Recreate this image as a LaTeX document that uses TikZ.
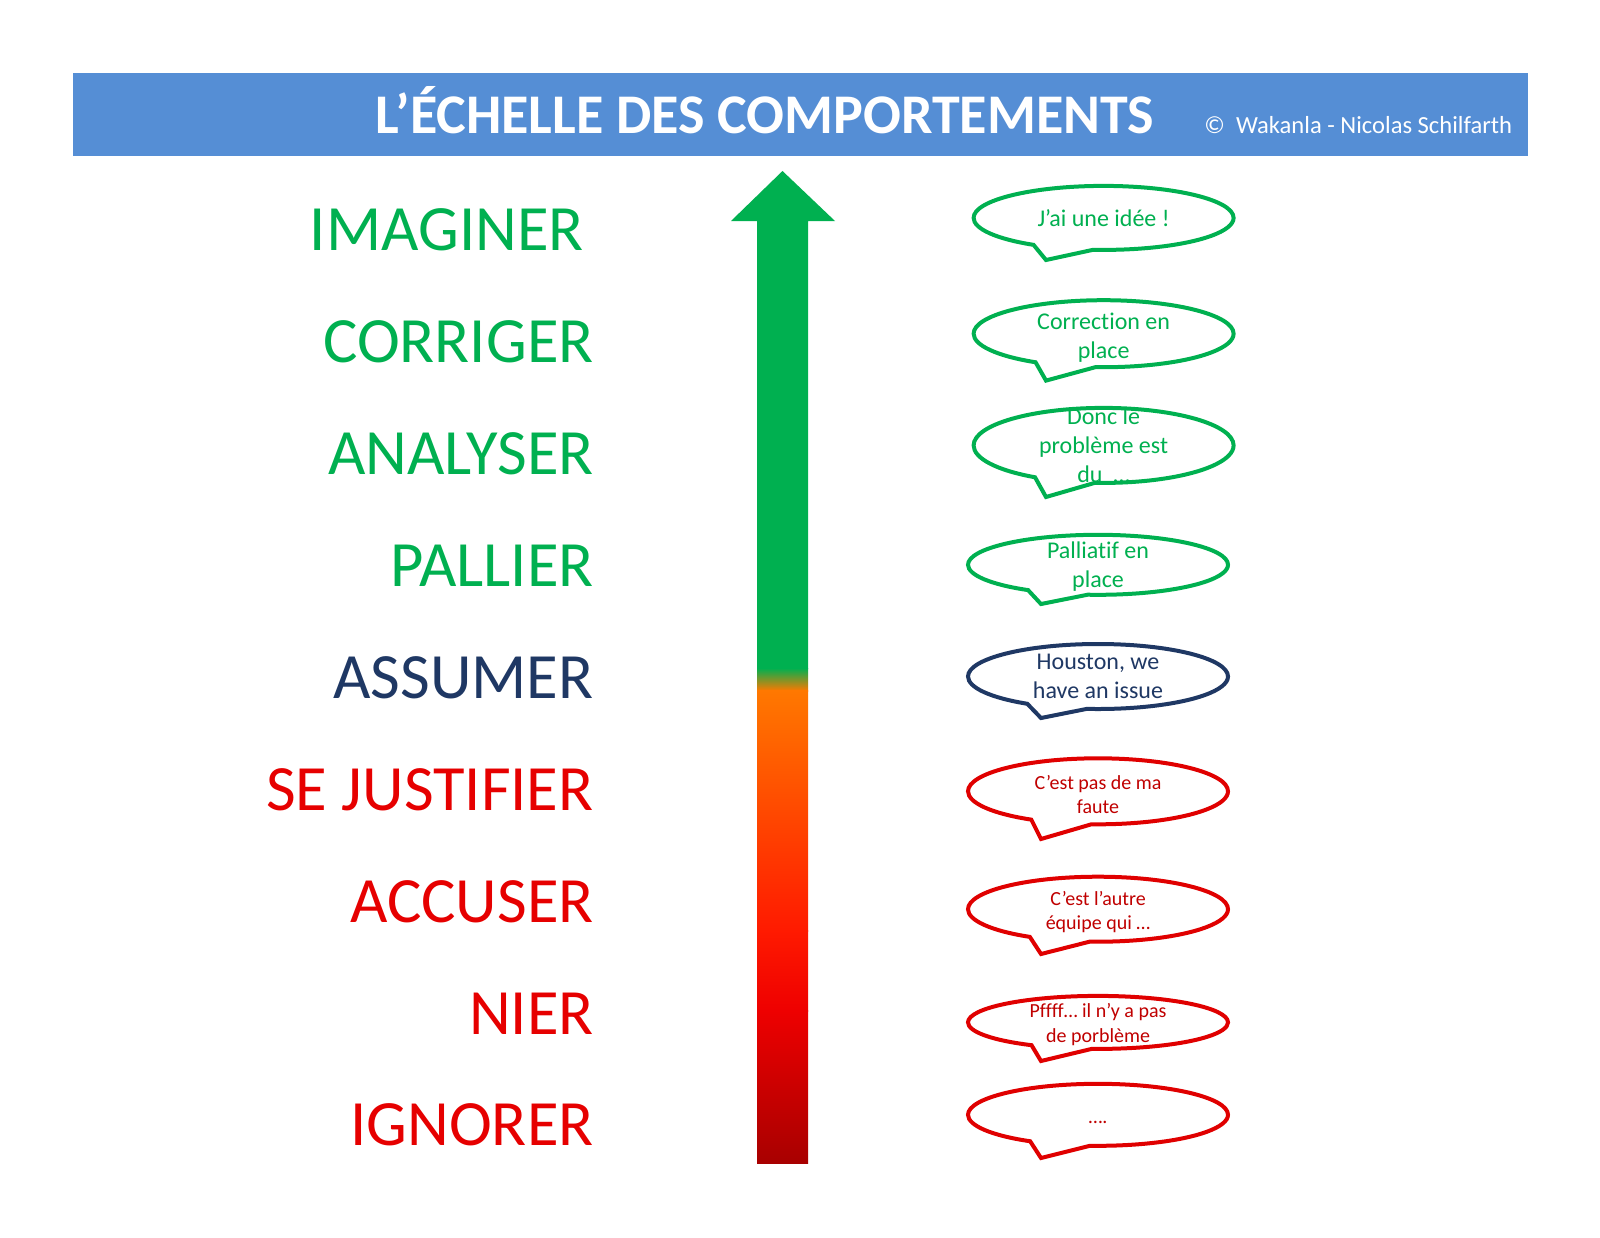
\documentclass[tikz,border=0pt]{standalone}
\usepackage{fontspec}
\setmainfont[Ligatures=NoCommon]{Carlito}
\usetikzlibrary{shapes.callouts}
\definecolor{hdr}{HTML}{558ED5}
\definecolor{grn}{HTML}{00B050}
\definecolor{navy}{HTML}{1F3864}
\definecolor{lred}{HTML}{E60000}
\definecolor{bred}{HTML}{E00000}
\definecolor{dred}{HTML}{C00000}
\definecolor{org}{HTML}{FF7800}
\definecolor{rd1}{HTML}{FF1A00}
\definecolor{rd2}{HTML}{EE0000}
\definecolor{rd3}{HTML}{A80000}
\begin{document}
\begin{tikzpicture}[x=0.5pt,y=-0.5pt,
  lbl/.style={anchor=base east, font=\fontsize{32.3}{38}\selectfont, inner sep=0pt},
  bub/.style={ellipse callout, draw, line width=2pt, fill=white, minimum width=130pt,
    minimum height=#1, inner sep=0pt, callout pointer arc=28},
  gtxt/.style={align=center, text=grn, font=\fontsize{12}{14.5}\selectfont, inner sep=0pt},
  btxt/.style={align=center, text=navy, font=\fontsize{12}{14.5}\selectfont, inner sep=0pt},
  rtxt/.style={align=center, text=dred, font=\fontsize{10}{12.2}\selectfont, inner sep=0pt}]
\useasboundingbox (0,0) rectangle (1600,1237);
\fill[white] (0,0) rectangle (1600,1237);
% header
\node[fill=hdr, minimum width=727.5pt, minimum height=41.75pt, inner sep=0pt, anchor=north west] (hdr) at (72.5,72.5) {};
\node[anchor=base, text=white, font=\bfseries\fontsize{28}{34}\selectfont, inner sep=0pt] (title) at (765,133) {L’ÉCHELLE DES COMPORTEMENTS};
\node[anchor=base west, text=white, font=\fontsize{12.3}{14}\selectfont, inner sep=0pt] (copy) at (1204,133) {©\ \ Wakanla - Nicolas Schilfarth};
% arrow
\fill[grn] (731,221) -- (782.5,171) -- (835,221) -- (808,221) -- (808,669) -- (757,669) -- (757,221) -- cycle;
\shade[top color=grn, bottom color=org] (757,668) rectangle (808,691);
\shade[top color=org, bottom color=rd1] (757,690) rectangle (808,931);
\shade[top color=rd1, bottom color=rd2] (757,930) rectangle (808,1011);
\shade[top color=rd2, bottom color=rd3] (757,1010) rectangle (808,1163);
% labels
\node[lbl, text=grn] (l1) at (584,250) {IMAGINER};
\node[lbl, text=grn] (l2) at (594,362) {CORRIGER};
\node[lbl, text=grn] (l3) at (594,474) {ANALYSER};
\node[lbl, text=grn] (l4) at (594,586) {PALLIER};
\node[lbl, text=navy] (l5) at (594,698) {ASSUMER};
\node[lbl, text=lred] (l6) at (594,810) {SE JUSTIFIER};
\node[lbl, text=lred] (l7) at (594,922) {ACCUSER};
\node[lbl, text=lred] (l8) at (594,1034) {NIER};
\node[lbl, text=lred] (l9) at (594,1145) {IGNORER};
% bubbles
\node[bub=32pt, draw=grn, callout absolute pointer={(1046,260)}] (b1) at (1103.6,217.9) {};
\node[gtxt] (t1) at (b1.center) {J’ai une idée !};
\node[bub=33.5pt, draw=grn, callout absolute pointer={(1046,380.6)}] (b2) at (1103.6,333.7) {};
\node[gtxt, yshift=-2pt] (t2) at (b2.center) {Correction en\\place};
\node[bub=37.5pt, draw=grn, callout absolute pointer={(1046,497)}] (b3) at (1103.6,445.4) {};
\node[gtxt] (t3) at (b3.center) {Donc le\\problème est\\du\ \ …};
\node[bub=30pt, draw=grn, callout absolute pointer={(1041,604)}] (b4) at (1098,564.8) {};
\node[gtxt, yshift=-1pt] (t4) at (b4.center) {Palliatif en\\place};
\node[bub=32.5pt, draw=navy, callout absolute pointer={(1041,718)}] (b5) at (1098,676.5) {};
\node[btxt] (t5) at (b5.center) {Houston, we\\have an issue};
\node[bub=33pt, draw=bred, callout absolute pointer={(1041,839)}] (b6) at (1098,791.3) {};
\node[rtxt, yshift=-1.5pt] (t6) at (b6.center) {C’est pas de ma\\faute};
\node[bub=32.5pt, draw=bred, callout absolute pointer={(1041,954)}] (b7) at (1098,909.2) {};
\node[rtxt, yshift=-1.5pt] (t7) at (b7.center) {C’est l’autre\\équipe qui …};
\node[bub=26.5pt, draw=bred, callout absolute pointer={(1041,1061)}] (b8) at (1098,1022.4) {};
\node[rtxt, yshift=-1pt] (t8) at (b8.center) {Pffff… il n’y a pas\\de porblème};
\node[bub=31pt, draw=bred, callout absolute pointer={(1041,1158)}] (b9) at (1098,1114.8) {};
\node[rtxt, yshift=-4pt] (t9) at (b9.center) {….};
\end{tikzpicture}
\end{document}
